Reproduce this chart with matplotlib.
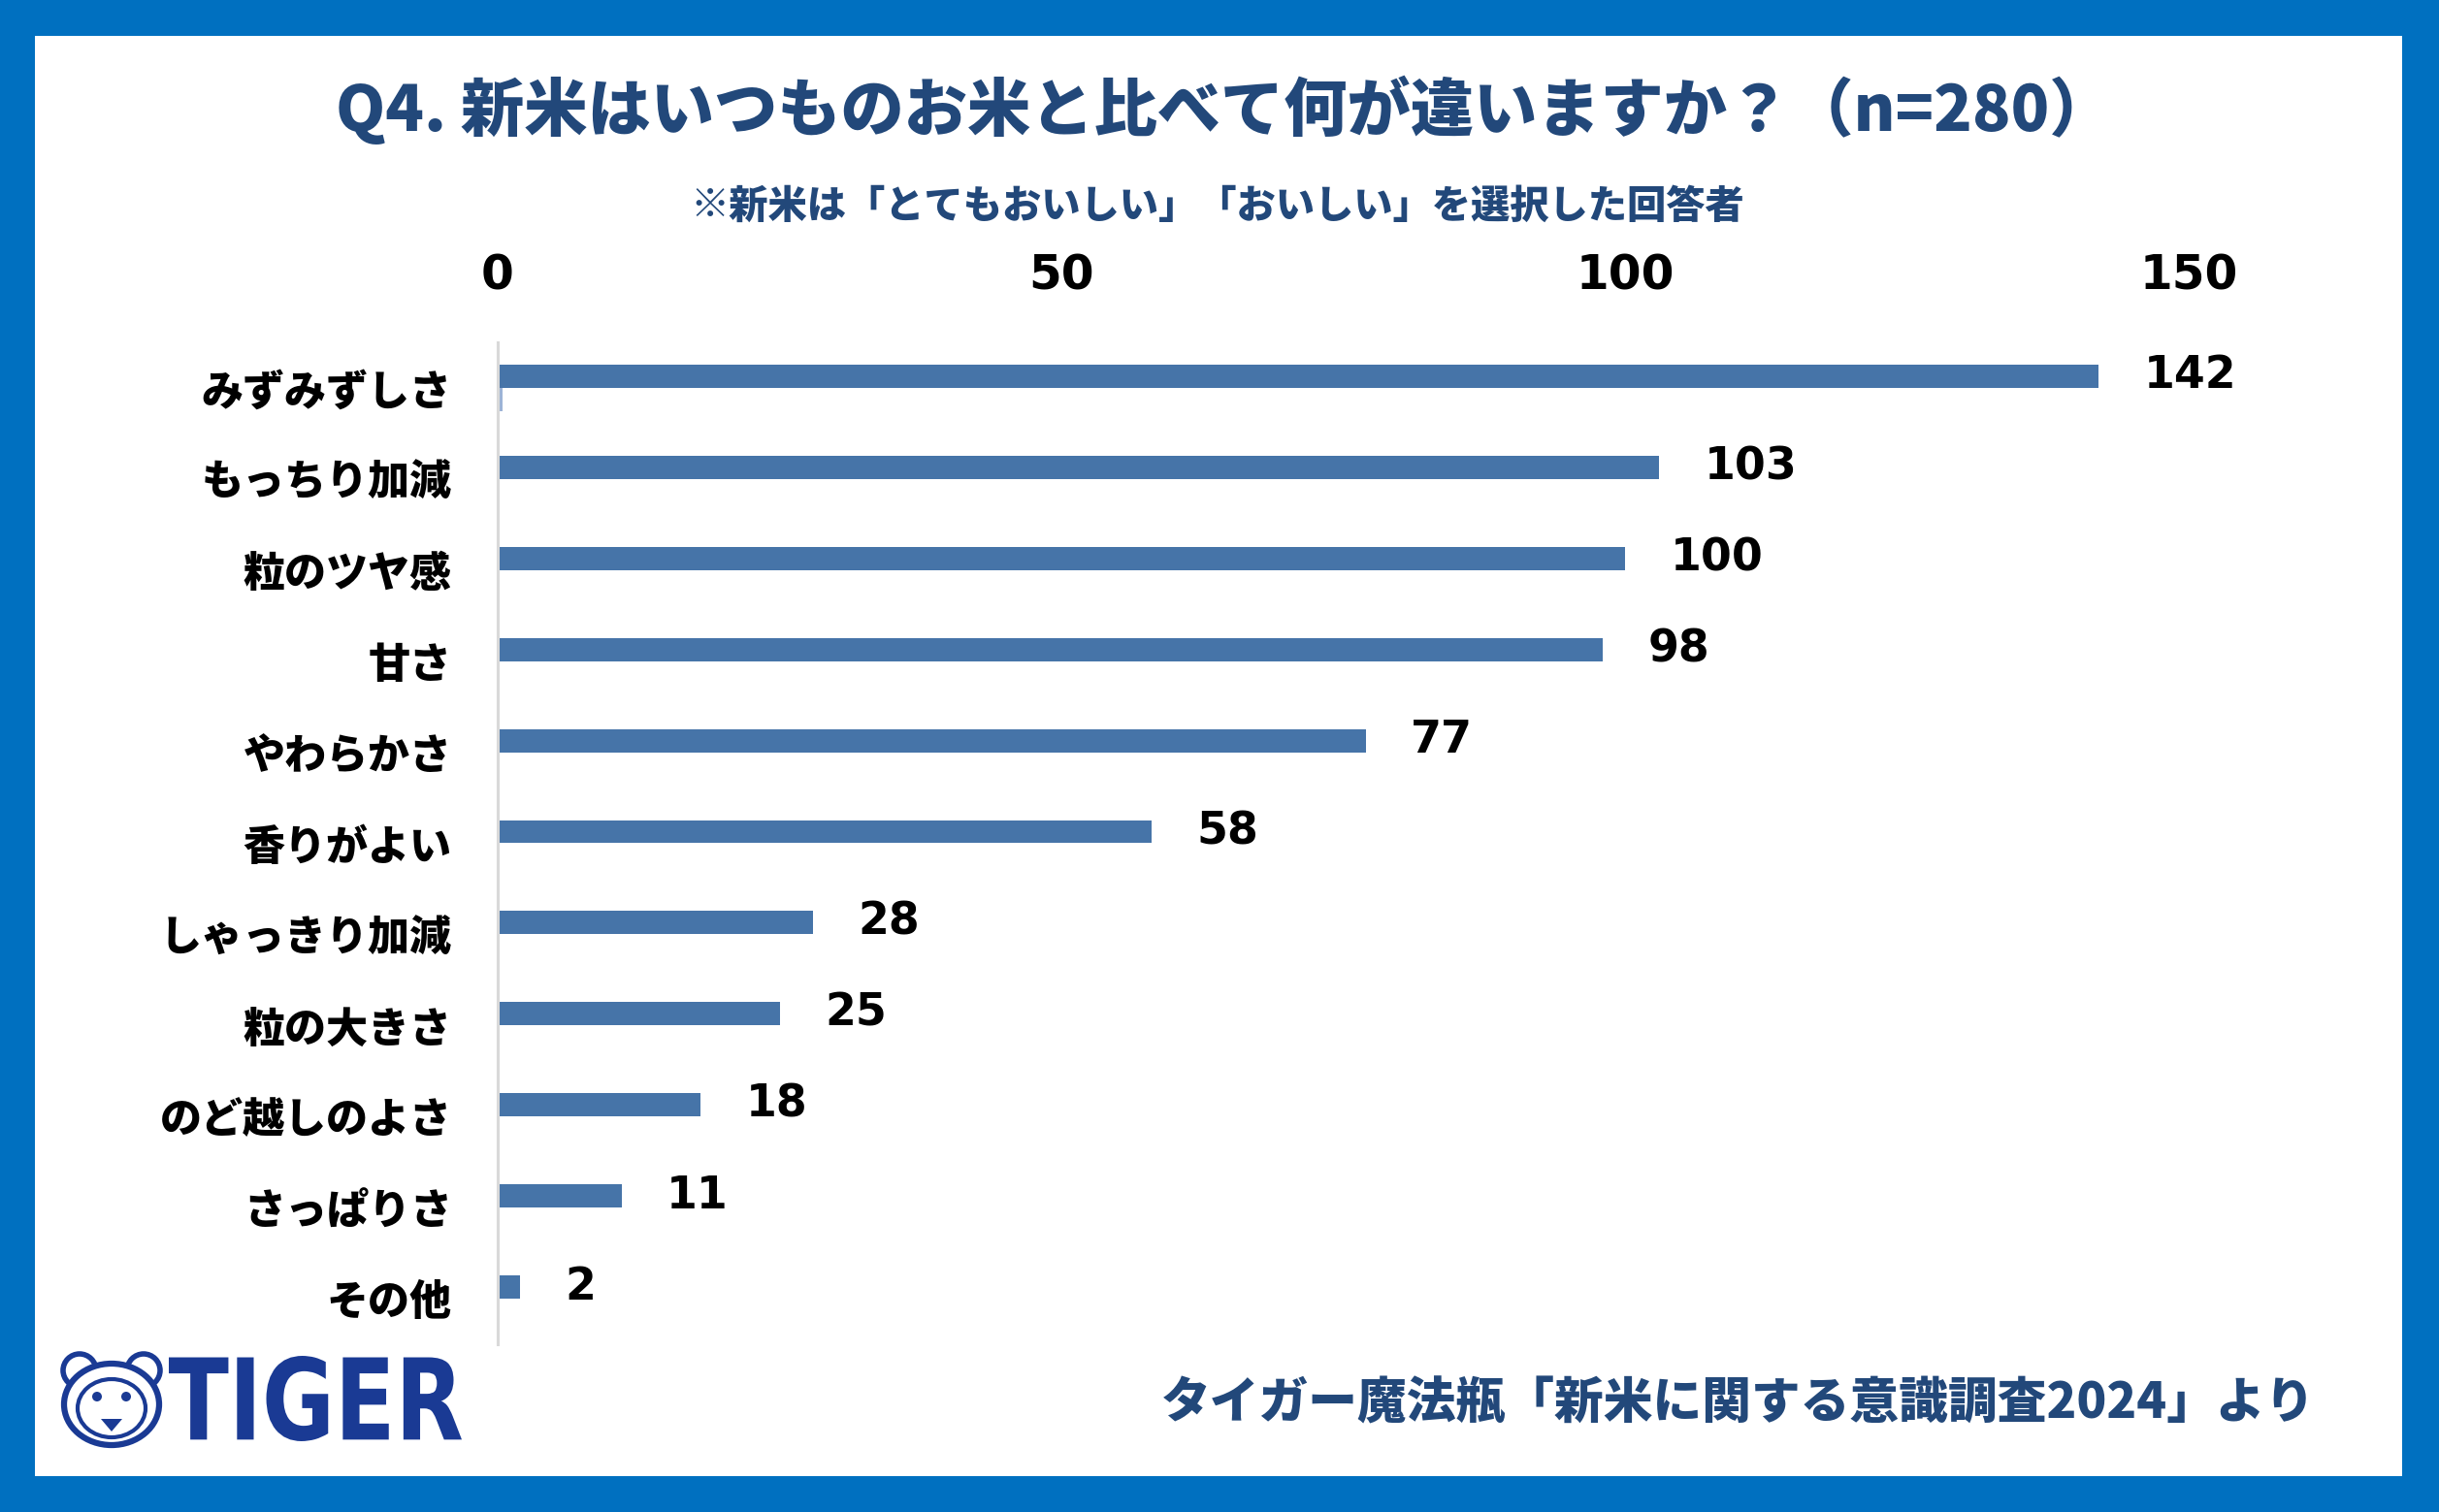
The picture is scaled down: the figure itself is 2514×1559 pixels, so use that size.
import matplotlib.pyplot as plt
import numpy as np
from matplotlib.patches import Rectangle, Ellipse, Circle, PathPatch, Polygon
from matplotlib.textpath import TextPath
from matplotlib.font_manager import FontProperties
from matplotlib.transforms import Affine2D

JP = ["Noto Sans CJK JP", "DejaVu Sans"]
NUM = ["DejaVu Sans", "Noto Sans CJK JP"]

NAVY = "#22487A"
BAR = "#4674A8"
BAR2 = "#9DB3D6"
BORDER = "#0070C0"
LOGO = "#1A3A94"

# データ
categories = ["みずみずしさ", "もっちり加減", "粒のツヤ感", "甘さ", "やわらかさ",
              "香りがよい", "しゃっきり加減", "粒の大きさ", "のど越しのよさ",
              "さっぱりさ", "その他"]
values = [142, 103, 100, 98, 77, 58, 28, 25, 18, 11, 2]
values_sub = [0.4, 0.2, 0.2, 0.2, 0.1, 0.05, 0, 0, 0, 0, 0]
xticks = [0, 50, 100, 150]

title = "Q4. 新米はいつものお米と比べて何が違いますか？（n=280）"
subtitle = "※新米は「とてもおいしい」「おいしい」を選択した回答者"
footer = "タイガー魔法瓶「新米に関する意識調査2024」より"

W, H = 2514, 1559
fig = plt.figure(figsize=(W / 100, H / 100), dpi=100, facecolor=BORDER)

# 背景（青枠＋白地）とロゴ用のピクセル座標軸
bg = fig.add_axes([0, 0, 1, 1], zorder=-1)
bg.set_xlim(0, W)
bg.set_ylim(H, 0)
bg.axis("off")
bg.add_patch(Rectangle((36, 37), 2476 - 36, 1522 - 37, facecolor="white",
                       edgecolor="none"))

# TIGER ロゴ（文字部分）
tp = TextPath((0, 0), "TIGER", size=100,
              prop=FontProperties(family="DejaVu Sans", weight="bold"))
bb = tp.get_extents()
x0, x1, y0, y1 = 174, 476, 1398, 1486
tr = (Affine2D().translate(-bb.x0, -bb.y0)
      .scale((x1 - x0) / bb.width, -(y1 - y0) / bb.height)
      .translate(x0, y1))
bg.add_patch(PathPatch(tr.transform_path(tp), facecolor=LOGO, edgecolor="none"))

# ロゴ（顔部分）
for cx in (82, 148):
    bg.add_patch(Circle((cx, 1413), 17, facecolor="white", edgecolor=LOGO, lw=4))
bg.add_patch(Ellipse((115, 1448), 98, 84, facecolor="white", edgecolor=LOGO, lw=4.5))
bg.add_patch(Ellipse((115, 1452), 70, 60, facecolor="none", edgecolor=LOGO, lw=3))
for cx in (100, 130):
    bg.add_patch(Circle((cx, 1440), 5, facecolor=LOGO, edgecolor="none"))
bg.add_patch(Polygon([(104, 1463), (126, 1463), (115, 1476)], closed=True,
                     facecolor=LOGO, edgecolor="none"))

# グラフ
ax = fig.add_axes([513 / W, 1 - 1386 / H, (2256 - 513) / W, (1386 - 353) / H])
y = np.arange(len(categories))
h = 0.255
ax.barh(y - h / 2, values, height=h, color=BAR)
ax.barh(y + h / 2, values_sub, height=h, color=BAR2)

for yi, v in zip(y, values):
    ax.text(v + 4, yi - h / 2, str(v), ha="left", va="center", fontsize=33,
            fontweight="bold", family=NUM, color="black", clip_on=False)

ax.set_xlim(0, 150)
ax.set_ylim(len(categories) - 0.5, -0.5)
ax.xaxis.tick_top()
ax.set_xticks(xticks)
ax.set_xticklabels([str(t) for t in xticks], fontsize=35, fontweight="bold",
                   family=NUM)
ax.set_yticks(y)
ax.set_yticklabels(categories, fontsize=31, fontweight=900, family=JP)
ax.tick_params(axis="x", length=0, pad=32)
ax.tick_params(axis="y", length=0, pad=34)
for s in ["top", "right", "bottom"]:
    ax.spines[s].set_visible(False)
ax.spines["left"].set_color("#D9D9D9")
ax.spines["left"].set_linewidth(2.2)
ax.set_facecolor("none")

fig.text(1262 / W, 1 - 113 / H, title, ha="center", va="center", fontsize=47,
         fontweight=900, family=JP, color=NAVY)
fig.text(1255 / W, 1 - 213 / H, subtitle, ha="center", va="center", fontsize=29,
         fontweight=900, family=JP, color=NAVY)
fig.text(2386 / W, 1 - 1447 / H, footer, ha="right", va="center", fontsize=36.5,
         fontweight=900, family=JP, color=NAVY)

fig.savefig("out.png", dpi=100, facecolor=BORDER)
